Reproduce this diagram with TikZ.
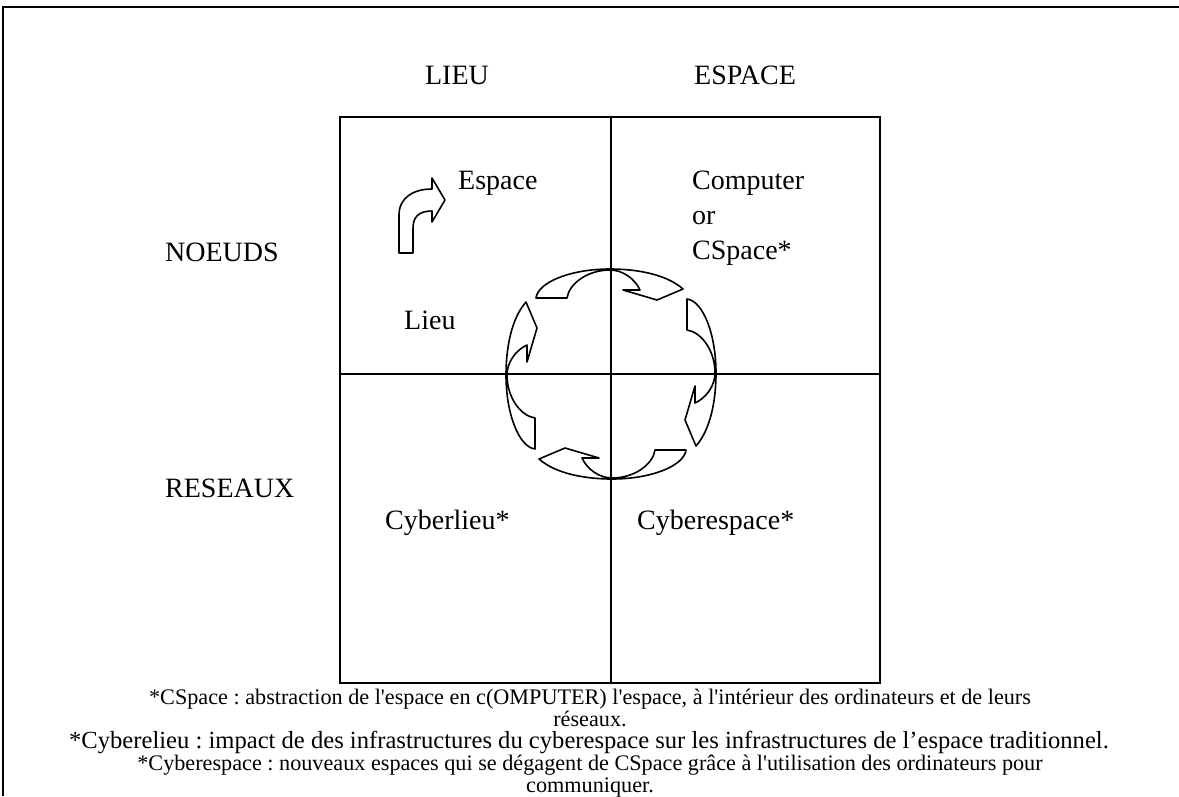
\documentclass[tikz,border=0pt]{standalone}
\usepackage{fontspec}
\setmainfont{Liberation Serif}
\frenchspacing
\begin{document}
\begin{tikzpicture}[x=1pt,y=1pt,
  frameline/.style={line width=2pt},
  gridline/.style={line width=2pt},
  blockarrow/.style={draw,line width=1.6pt,line join=round},
  lbl/.style={font=\fontsize{28}{34}\selectfont, inner sep=0pt, anchor=base},
  lblw/.style={lbl, anchor=base west},
  note/.style={font=\fontsize{22.2}{22}\selectfont, inner sep=0pt, anchor=base},
  widenote/.style={note, font=\fontsize{24.6}{22}\selectfont},
  cyclearrow/.pic={\draw[blockarrow] (-75,76) -- (-44,76)
      .. controls (-42,90) and (-24,104) .. (-1,104)
      .. controls (12,104) and (24,95) .. (29,84)
      -- (12,84) -- (46,74) -- (72,85)
      .. controls (55,100) and (25,105) .. (-1,105)
      .. controls (-40,105) and (-73,92) .. (-75,76) -- cycle;}
]
\useasboundingbox (0,0) rectangle (1179,-796);
% outer frame (top and left only)
\draw[frameline] (3,-796) -- (3,-7) -- (1179,-7);
% grid
\coordinate (gtl) at (340,-117);
\coordinate (gbr) at (880,-683);
\draw[gridline] (gtl) rectangle (gbr);
\draw[gridline] (611,-117) -- (611,-683);
\draw[gridline] (340,-374) -- (880,-374);
% headings
\node[lbl] (lieuhead) at (457,-84) {LIEU};
\node[lbl] (espacehead) at (745,-84) {ESPACE};
\node[lblw] (noeuds) at (165,-261) {NOEUDS};
\node[lblw] (reseaux) at (165,-497) {RESEAUX};
% cell texts
\node[lblw] (espace) at (458,-189) {Espace};
\node[lblw] (computer) at (692,-189) {Computer};
\node[lblw] (or) at (692,-224) {or};
\node[lblw] (cspace) at (692,-259) {CSpace*};
\node[lblw] (lieu) at (404,-329) {Lieu};
\node[lblw] (cyberlieu) at (385,-529) {Cyberlieu*};
\node[lblw] (cyberespace) at (637,-529) {Cyberespace*};
% bent arrow Lieu -> Espace
\draw[blockarrow] (399,-253) -- (399,-215)
   .. controls (399,-198) and (413,-189) .. (432,-189)
   -- (432,-178) -- (445,-200) -- (432,-222) -- (432,-211)
   .. controls (420,-211) and (413,-216) .. (413,-228)
   -- (413,-253) -- cycle;
% cycle of four curved arrows
\pic at (611,-374) {cyclearrow};
\pic[rotate=90] at (611,-374) {cyclearrow};
\pic[rotate=180] at (611,-374) {cyclearrow};
\pic[rotate=270] at (611,-374) {cyclearrow};
% footnotes
\node[note] (fn1) at (590,-704) {*CSpace : abstraction de l\textquotesingle espace en c(OMPUTER) l\textquotesingle espace, à l\textquotesingle intérieur des ordinateurs et de leurs};
\node[note] (fn1b) at (590,-726) {réseaux.};
\node[widenote] (fn2) at (589,-748) {*Cyberelieu : impact de des infrastructures du cyberespace sur les infrastructures de l’espace traditionnel.};
\node[note] (fn3) at (590,-770) {*Cyberespace : nouveaux espaces qui se dégagent de CSpace grâce à l\textquotesingle utilisation des ordinateurs pour};
\node[note] (fn3b) at (590,-792) {communiquer.};
\end{tikzpicture}
\end{document}
